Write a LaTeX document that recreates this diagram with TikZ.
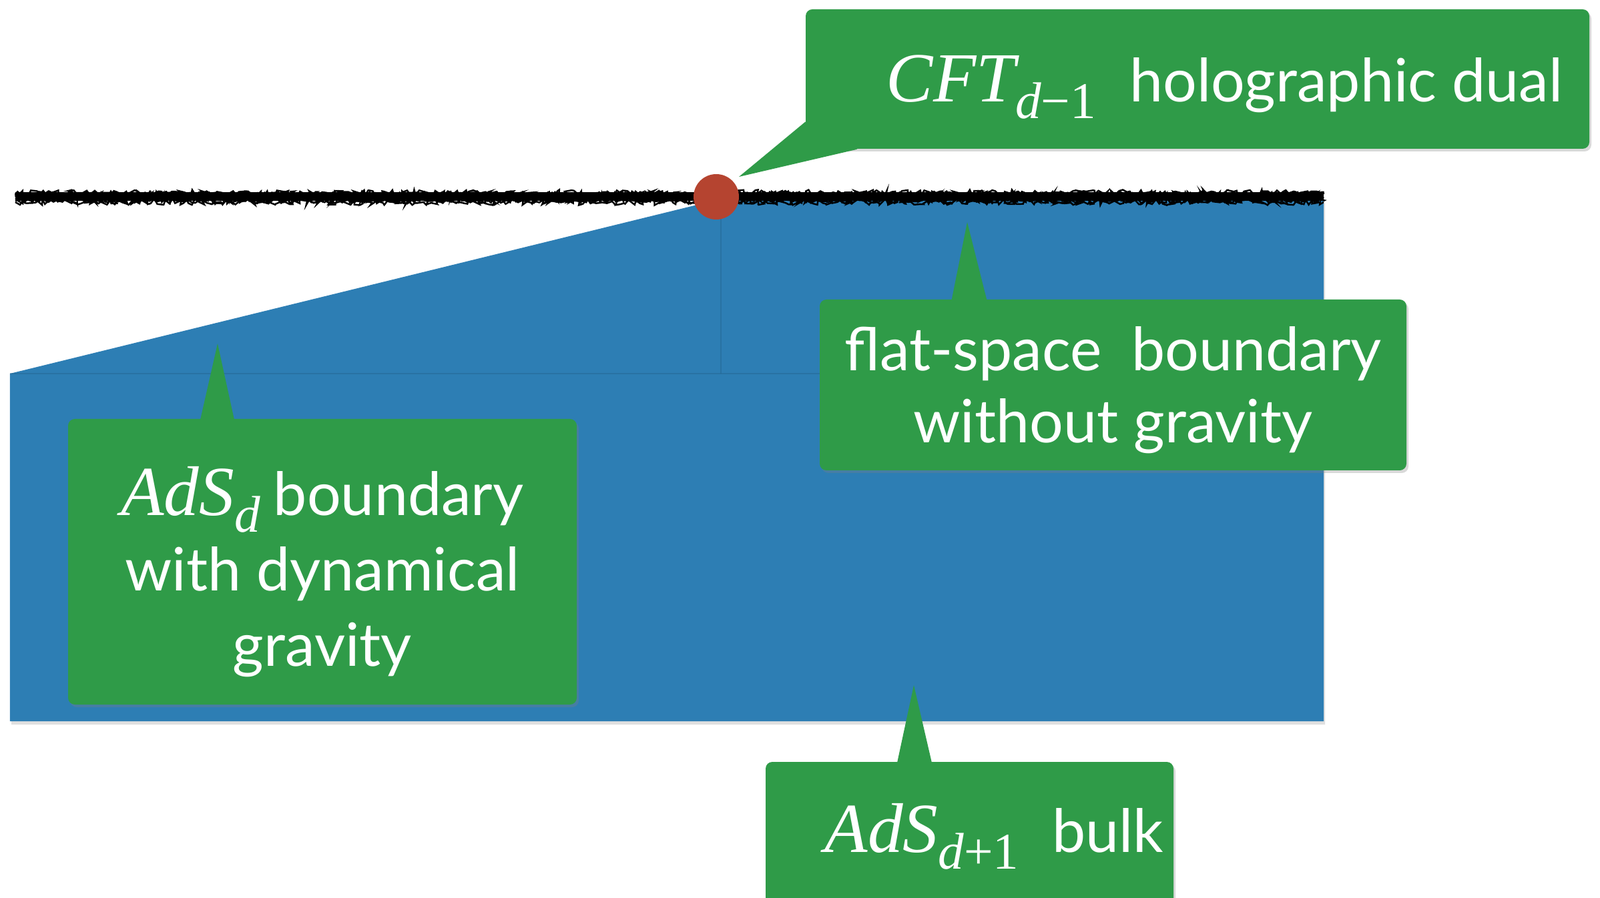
\documentclass[tikz,border=0pt]{standalone}
\usepackage{fontspec}
\setmainfont{Lato}
\newfontfamily\tnr{Liberation Serif}
\usepackage{xcolor}
\usepackage{tikz}
\usetikzlibrary{shadows, decorations.pathmorphing}

\definecolor{bulkblue}{RGB}{45,126,180}
\definecolor{notegreen}{RGB}{47,155,72}
\definecolor{dotred}{RGB}{181,68,48}

% italic symbol with lowered index
\newcommand{\sym}[2]{{\tnr\fontsize{30}{30}\selectfont\itshape #1}\raisebox{-0.25cm}{\tnr\fontsize{22}{22}\selectfont #2}}

\begin{document}
\begin{tikzpicture}[
    note/.style={rectangle, fill=notegreen, rounded corners=0.1cm, inner sep=0pt,
        drop shadow={opacity=0.3, shadow xshift=0.03cm, shadow yshift=-0.04cm}},
    tail/.style={fill=notegreen},
    notetext/.style={text=white, font=\fontsize{25.5}{30.7}\selectfont, align=center, inner sep=0pt},
    seam/.style={bulkblue!80!black, line width=0.4pt, opacity=0.45},
    rough/.style={black, line width=0.7pt, decorate, decoration={random steps, segment length=1.2pt, amplitude=1.3pt}}
]
\useasboundingbox (0,0) rectangle (23.97,13.45);
\clip (0,0) rectangle (23.97,13.45);

% Bulk region
\fill[bulkblue, drop shadow={opacity=0.25, shadow xshift=0.02cm, shadow yshift=-0.05cm}]
    (0.15,2.64) -- (0.15,7.85) -- (10.73,10.45) -- (19.83,10.45) -- (19.83,2.64) -- cycle;
\draw[seam] (0.15,7.85) -- (19.83,7.85);
\draw[seam] (10.80,10.45) -- (10.80,7.85);

% Boundary line
\fill[black] (0.23,10.44) rectangle (19.83,10.57);
\foreach \dy in {-0.08,-0.06,...,0.08}
    \draw[rough] (0.23,10.5+\dy) -- (19.83,10.5+\dy);

% Notes
\node[note, minimum width=11.74cm, minimum height=2.09cm] (cft) at (17.94,12.265) {};
\node[note, minimum width=8.79cm, minimum height=2.56cm] (flat) at (16.675,7.68) {};
\node[note, minimum width=7.62cm, minimum height=4.28cm] (ads) at (4.83,5.03) {};
\node[note, minimum width=6.11cm, minimum height=2.23cm] (bulk) at (14.525,0.915) {};

% Tails
\coordinate (cft tip) at (11.07,10.80);
\coordinate (flat tip) at (14.49,10.12);
\coordinate (ads tip) at (3.26,8.30);
\coordinate (bulk tip) at (13.69,3.18);
\fill[tail] ([yshift=0.41cm]cft.south west) -- (cft tip) -- ([xshift=0.78cm]cft.south west) -- cycle;
\fill[tail] ([xshift=-2.42cm, yshift=-0.02cm]flat.north) -- (flat tip) -- ([xshift=-1.89cm, yshift=-0.02cm]flat.north) -- cycle;
\fill[tail] ([xshift=-1.83cm, yshift=-0.02cm]ads.north) -- (ads tip) -- ([xshift=-1.32cm, yshift=-0.02cm]ads.north) -- cycle;
\fill[tail] ([xshift=-1.085cm, yshift=-0.02cm]bulk.north) -- (bulk tip) -- ([xshift=-0.565cm, yshift=-0.02cm]bulk.north) -- cycle;

% Boundary point
\node[circle, fill=dotred, minimum size=0.68cm, inner sep=0pt] (dot) at (10.73,10.50) {};

% Texts
\node[notetext, anchor=base] (cft text) at (18.345,11.92) {\sym{CFT}{{\itshape d}−1}\hspace{0.5cm}holographic dual};
\node[notetext] (flat text) at (16.675,7.60) {flat-space\hspace{0.45cm}boundary\\without gravity};
\node[notetext, font=\fontsize{25.5}{32.1}\selectfont] (ads text) at (4.83,4.88) {\sym{AdS}{\itshape d}\hspace{0.2cm}boundary\\with dynamical\\gravity};
\node[notetext, anchor=base] (bulk text) at (14.895,0.68) {\sym{AdS}{{\itshape d}+1}\hspace{0.5cm}bulk};

\end{tikzpicture}
\end{document}
